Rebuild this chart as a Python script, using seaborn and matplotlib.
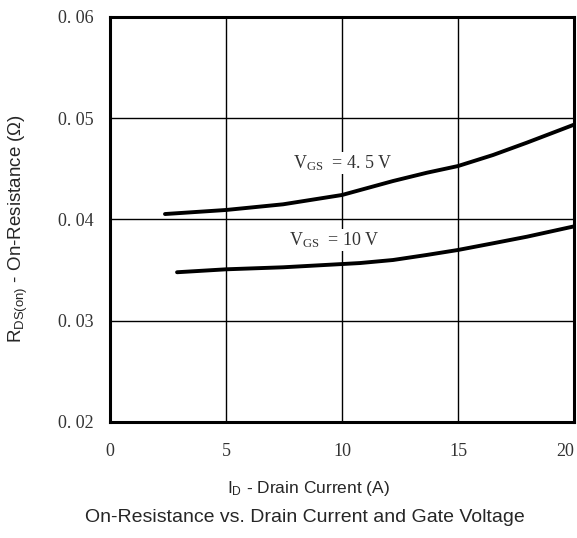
import numpy as np
import pandas as pd
import seaborn as sns
import matplotlib.pyplot as plt

sns.set_style("white")

# curve values
id_45 = [2.37, 5.0, 7.46, 10.0, 10.78, 12.2, 13.66, 15.0, 16.51, 17.97, 19.96, 20.0]
r_45 = [0.04054, 0.04094, 0.0415, 0.04242, 0.04291, 0.0438, 0.04462, 0.04528, 0.04637, 0.04759, 0.04933, 0.04937]
id_10 = [2.89, 5.0, 7.46, 10.0, 10.78, 12.2, 13.66, 15.0, 16.51, 17.97, 19.96, 20.0]
r_10 = [0.03479, 0.03508, 0.03528, 0.0356, 0.0357, 0.0360, 0.0365, 0.03699, 0.03765, 0.0383, 0.0393, 0.03932]

xticks = [0, 5, 10, 15, 20]
yticks = [0.02, 0.03, 0.04, 0.05, 0.06]
ytick_labels = ["0. 02", "0. 03", "0. 04", "0. 05", "0. 06"]

df = pd.concat([
    pd.DataFrame({"Id": id_45, "R": r_45, "Vgs": "4.5"}),
    pd.DataFrame({"Id": id_10, "R": r_10, "Vgs": "10"}),
])

fig = plt.figure(figsize=(5.77, 5.38), dpi=100)
ax = fig.add_axes([110 / 577, 1 - 422 / 538, 464 / 577, 405 / 538])

sns.lineplot(data=df, x="Id", y="R", units="Vgs", estimator=None,
             color="black", linewidth=2.8, ax=ax, legend=False)
for ln in ax.lines:
    ln.set_solid_capstyle("round")
    ln.set_solid_joinstyle("round")

serif = "Liberation Serif"
ax.set_xlim(0, 20)
ax.set_ylim(0.02, 0.06)
ax.set_xticks(xticks)
ax.set_yticks(yticks)
ax.set_xticklabels([str(t) for t in xticks], family=serif, fontsize=13, color="#333333")
ax.set_yticklabels(ytick_labels, family=serif, fontsize=13, color="#333333")
ax.get_xticklabels()[-1].set_ha("right")
ax.tick_params(axis="x", length=0, pad=15)
ax.tick_params(axis="y", length=0, pad=12)
ax.grid(True, color="black", linewidth=1.0)
for s in ax.spines.values():
    s.set_linewidth(2.2)
    s.set_color("black")

ax.set_xlabel("")
ax.set_ylabel("")

box = dict(facecolor="white", edgecolor="none", pad=1.0)
ax.text(7.9, 0.04558, r"V$\mathregular{_{GS}}$  = 4. 5 V", family=serif, fontsize=13,
        color="#333333", va="center", bbox=box)
ax.text(7.7, 0.03798, r"V$\mathregular{_{GS}}$  = 10 V", family=serif, fontsize=13,
        color="#333333", va="center", bbox=box)

fig.text(308 / 577, 1 - 489 / 538, r"I$\mathregular{_D}$ - Drain Current (A)", ha="center", va="center",
         family="Liberation Sans", fontsize=12.5)
fig.text(305 / 577, 1 - 518 / 538, "On-Resistance vs. Drain Current and Gate Voltage",
         ha="center", va="center", family="Liberation Sans", fontsize=14)
fig.text(18 / 577, 1 - 228 / 538, r"R$\mathregular{_{DS(on)}}$ - On-Resistance (Ω)", ha="center", va="center",
         rotation=90, family="Liberation Sans", fontsize=13.5)

fig.savefig("out.png", dpi=100)
